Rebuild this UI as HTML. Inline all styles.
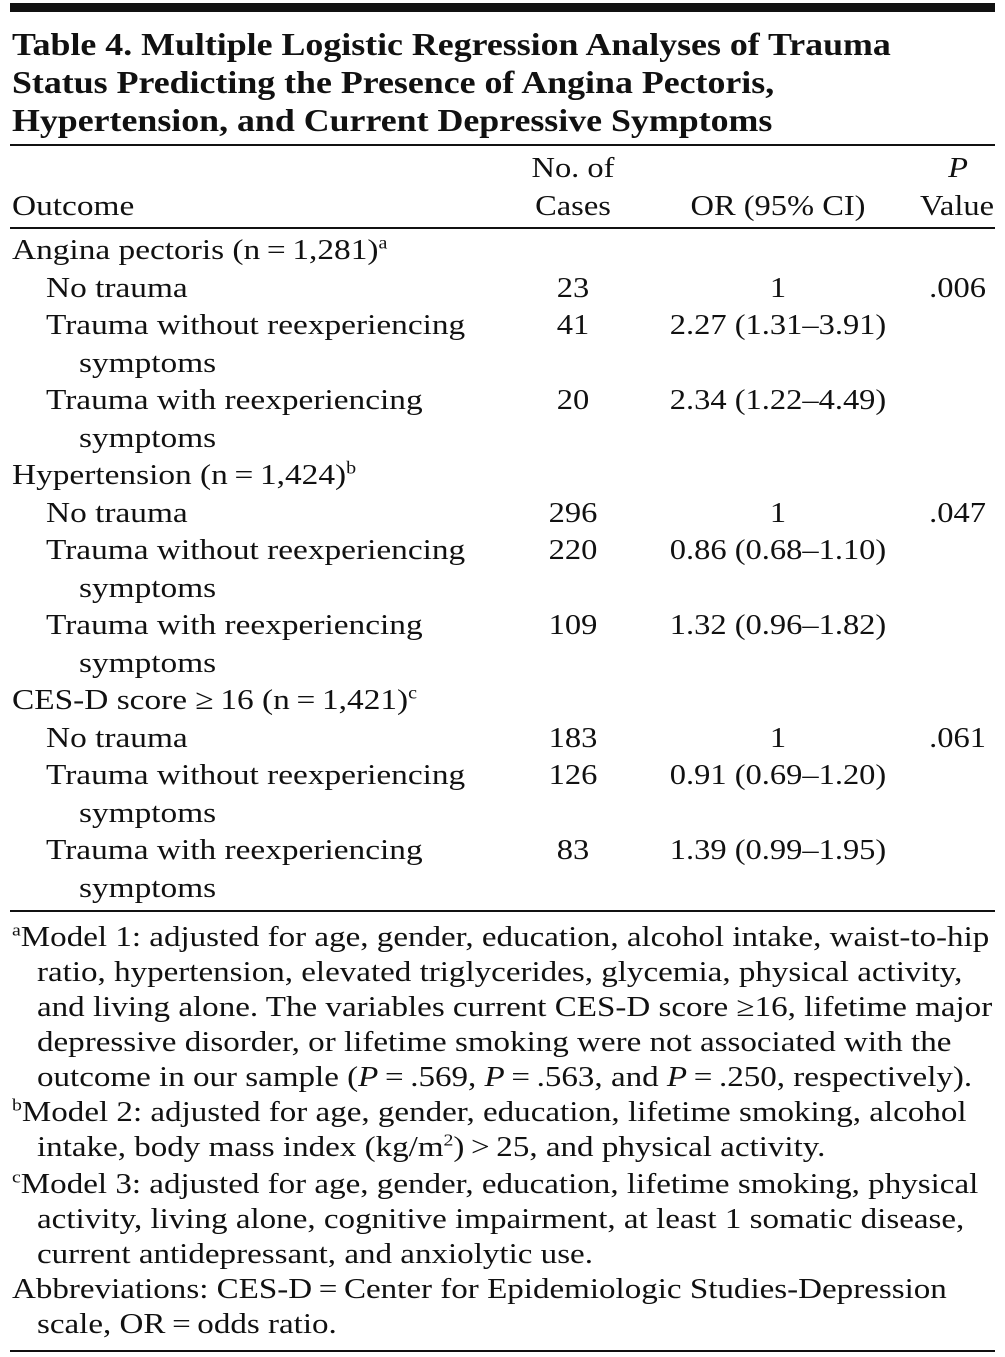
<!DOCTYPE html>
<html><head><meta charset="utf-8">
<style>
body{margin:0;background:#fff;}
#t{position:relative;width:1005px;height:1357px;background:#fff;font-family:"Liberation Serif",serif;color:#111;overflow:hidden;}
.l{position:absolute;white-space:nowrap;line-height:36px;height:36px;font-size:29px;transform:scaleX(1.15);transform-origin:left center;}
.ti{font-size:32px;font-weight:bold;transform:scaleX(1.12);}
.f{font-size:28px;transform:scaleX(1.18);}
.c{text-align:center;width:200px;transform:scaleX(1.12);transform-origin:center center;}
.r{text-align:right;width:200px;transform:scaleX(1.12);transform-origin:right center;}
.rule{position:absolute;left:10px;width:985px;background:#111;}
sup{font-size:60%;line-height:0;}
</style></head><body>
<div id="t">
<div class="rule" style="top:3px;height:9px"></div>
<div class="l ti" style="left:12px;top:26px">Table 4. Multiple Logistic Regression Analyses of Trauma</div>
<div class="l ti" style="left:12px;top:64px">Status Predicting the Presence of Angina Pectoris,</div>
<div class="l ti" style="left:12px;top:102px">Hypertension, and Current Depressive Symptoms</div>
<div class="rule" style="top:144px;height:2px"></div>

<div class="l c" style="left:473px;top:150px">No. of</div>
<div class="l r" style="left:768px;top:150px;font-style:italic">P</div>
<div class="l" style="left:12px;top:188px">Outcome</div>
<div class="l c" style="left:473px;top:188px">Cases</div>
<div class="l c" style="left:678px;top:188px">OR (95% CI)</div>
<div class="l r" style="left:794px;top:188px">Value</div>
<div class="rule" style="top:227px;height:2px"></div>

<div id="rows"></div>

<div class="rule" style="top:910px;height:2px"></div>

<div class="l f" style="left:12px;top:920px"><sup>a</sup>Model 1: adjusted for age, gender, education, alcohol intake, waist-to-hip</div>
<div class="l f" style="left:37px;top:955px">ratio, hypertension, elevated triglycerides, glycemia, physical activity,</div>
<div class="l f" style="left:37px;top:990px">and living alone. The variables current CES-D score ≥16, lifetime major</div>
<div class="l f" style="left:37px;top:1025px">depressive disorder, or lifetime smoking were not associated with the</div>
<div class="l f" style="left:37px;top:1060px">outcome in our sample (<i>P</i>&#8201;=&#8201;.569, <i>P</i>&#8201;=&#8201;.563, and <i>P</i>&#8201;=&#8201;.250, respectively).</div>
<div class="l f" style="left:12px;top:1095px"><sup>b</sup>Model 2: adjusted for age, gender, education, lifetime smoking, alcohol</div>
<div class="l f" style="left:37px;top:1130px">intake, body mass index (kg/m<sup>2</sup>)&#8201;&gt;&#8201;25, and physical activity.</div>
<div class="l f" style="left:12px;top:1167px"><sup>c</sup>Model 3: adjusted for age, gender, education, lifetime smoking, physical</div>
<div class="l f" style="left:37px;top:1202px">activity, living alone, cognitive impairment, at least 1 somatic disease,</div>
<div class="l f" style="left:37px;top:1237px">current antidepressant, and anxiolytic use.</div>
<div class="l f" style="left:12px;top:1272px">Abbreviations: CES-D&#8201;=&#8201;Center for Epidemiologic Studies-Depression</div>
<div class="l f" style="left:37px;top:1307px">scale, OR&#8201;=&#8201;odds ratio.</div>
<div class="rule" style="top:1350px;height:2px"></div>
</div>
<script>
const labels=["Angina pectoris (n&#8201;=&#8201;1,281)<sup>a</sup>","No trauma","Trauma without reexperiencing","symptoms","Trauma with reexperiencing","symptoms",
"Hypertension (n&#8201;=&#8201;1,424)<sup>b</sup>","No trauma","Trauma without reexperiencing","symptoms","Trauma with reexperiencing","symptoms",
"CES-D score ≥&#8201;16 (n&#8201;=&#8201;1,421)<sup>c</sup>","No trauma","Trauma without reexperiencing","symptoms","Trauma with reexperiencing","symptoms"];
const indents=[12,46,46,79,46,79,12,46,46,79,46,79,12,46,46,79,46,79];
const cases=["","23","41","","20","","","296","220","","109","","","183","126","","83",""];
const ors=["","1","2.27 (1.31–3.91)","","2.34 (1.22–4.49)","","","1","0.86 (0.68–1.10)","","1.32 (0.96–1.82)","","","1","0.91 (0.69–1.20)","","1.39 (0.99–1.95)",""];
const pvals=["",".006","","","","","",".047","","","","","",".061","","","",""];
const rows=document.getElementById('rows');
function add(html,left,top,cls,name){
  const d=document.createElement('div');
  d.className='l '+cls;d.innerHTML=html;d.style.left=left+'px';d.style.top=top+'px';
  
  
  rows.appendChild(d);
}
labels.forEach((lab,i)=>{
  const top=232+i*37.5;
  add(lab,indents[i],top,'','row-label');
  if(cases[i])add(cases[i],473,top,'c','cases-cell');
  if(ors[i])add(ors[i],678,top,'c','or-cell');
  if(pvals[i])add(pvals[i],786,top,'r','p-value-cell');
});
</script>
</body></html>
